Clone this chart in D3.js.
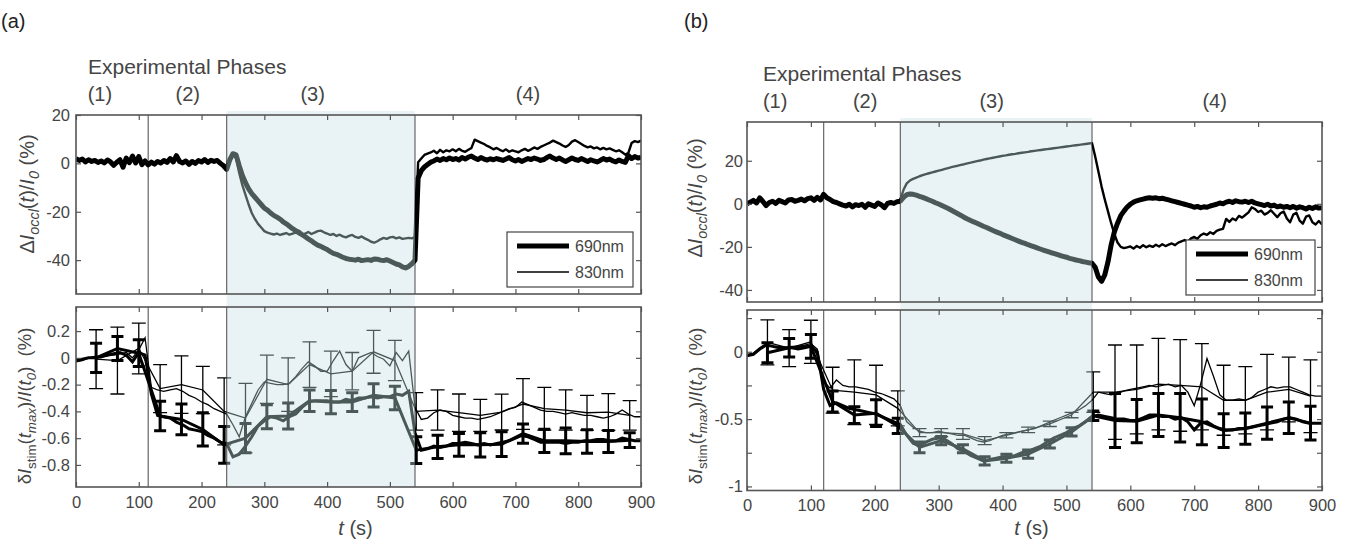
<!DOCTYPE html>
<html>
<head>
<meta charset="utf-8">
<script src="https://cdn.jsdelivr.net/npm/d3@7"></script>
<style>
body { margin: 0; background: #fff; }
text { font-family: "Liberation Sans", Arial, sans-serif; }
</style>
</head>
<body>
<svg id="chart" width="1355" height="547"></svg>
<script>
// sample grids (s)
var occTimes = d3.range(0, 901, 5)
var stimTimes = d3.range(0, 901, 10)
var barTimes = [32, 66, 100, 134, 168, 202, 236, 270, 304, 338, 372, 406, 440,
    474, 508, 542, 576, 610, 644, 678, 712, 746, 780, 814, 848, 882]
var xTicks = [0, 100, 200, 300, 400, 500, 600, 700, 800, 900]
var phaseNames = ["(1)", "(2)", "(3)", "(4)"]
var legendNames = ["690nm", "830nm"]

// (a) occlusion traces, dI/I0 in %
var occA690 = [
    2.0, 1.2, 1.8, 0.6, 1.5, 0.8, 1.2, 0.4, 1.0, 0.2, 1.4, 0.6,
    -0.8, 0.5, 1.5, -1.6, 2.2, 0.3, 3.0, 0.2, 2.8, -0.5, 1.0, -0.6,
    0.5, -0.3, 0.8, 0.2, 1.2, 0.4, 2.0, 0.6, 3.2, 0.8, 0.2, 1.0,
    -0.4, 0.8, 0.0, 1.2, 0.6, 1.6, 0.4, 1.3, 0.8, 1.2, 0.0, -1.0,
    -2.5, 1.5, 4.0, 3.5, -1.0, -5.0, -8.0, -10.5, -12.5, -14.0, -15.5, -17.0,
    -18.5, -19.3, -20.5, -21.5, -22.2, -23.0, -24.2, -25.0, -26.0, -27.0, -27.8, -28.5,
    -29.5, -30.3, -31.2, -32.0, -33.0, -33.8, -34.3, -35.0, -35.6, -36.5, -37.2, -37.6,
    -38.2, -38.8, -39.3, -39.6, -39.8, -40.0, -39.6, -40.2, -40.0, -39.8, -40.1, -39.5,
    -39.6, -40.0, -40.2, -39.8, -40.4, -41.0, -41.6, -42.0, -42.8, -43.2, -42.6, -41.5,
    -40.0, -6.0, -3.0, -1.5, -0.5, 0.5, 1.0, 1.8, 1.2, 2.0, 1.5, 2.2,
    1.6, 2.0, 1.4, 2.4, 1.8, 2.6, 3.0, 2.2, 1.6, 2.4, 1.8, 1.4,
    1.9, 1.5, 2.0, 1.6, 1.2, 1.8, 2.4, 1.5, 1.0, 1.6, 0.8, 1.4,
    2.0, 1.6, 2.2, 1.8, 1.2, 1.6, 2.4, 3.0, 2.2, 1.6, 2.2, 1.4,
    0.8, 1.5, 2.2, 1.6, 1.2, 2.0, 1.4, 0.8, 1.5, 1.0, 0.6, 1.2,
    2.0, 1.4, 1.8, 1.0, 0.6, 1.4, 0.8, 0.4, 3.2, 2.0, 2.8, 2.2,
    2.5]
var occA830 = [
    1.6, 1.0, 2.0, 0.8, 1.2, 1.0, 0.8, 0.6, 1.2, 0.0, 1.2, 0.8,
    -0.6, 0.7, 1.2, -1.2, 2.0, 0.5, 2.6, 0.4, 2.4, -0.2, 0.8, -0.4,
    0.3, -0.1, 0.6, 0.4, 1.0, 0.6, 1.8, 0.8, 2.8, 1.0, 0.4, 0.8,
    -0.2, 0.6, 0.2, 1.0, 0.8, 1.4, 0.6, 1.1, 1.0, 1.0, 0.2, -0.6,
    -2.0, 2.0, 4.0, 2.0, -4.0, -9.0, -13.0, -17.0, -20.5, -23.0, -25.0, -26.5,
    -28.0, -28.6, -29.0, -29.4, -29.0, -29.6, -29.2, -28.8, -29.5, -29.0, -28.6, -29.3,
    -29.6, -29.0, -28.4, -29.2, -28.6, -28.0, -27.8, -28.5, -29.0, -29.6, -29.2, -30.0,
    -29.5, -30.2, -30.6, -30.0, -29.6, -30.4, -30.8, -30.2, -31.0, -31.6, -32.4, -32.8,
    -32.2, -31.4, -30.8, -31.2, -30.6, -30.4, -31.0, -30.6, -31.2, -31.0, -30.8, -31.0,
    -30.5, 0.5, 2.0, 3.5, 4.0, 4.5, 5.2, 4.2, 5.6, 4.6, 5.4, 5.0,
    5.8, 5.0, 6.0, 5.2, 4.8, 5.6, 6.4, 9.8, 9.2, 8.6, 8.0, 7.2,
    6.6, 5.8, 6.4, 5.6, 5.0, 5.8, 4.8, 5.4, 5.0, 4.6, 5.4, 6.0,
    5.2, 5.8, 6.6, 6.0, 6.8, 7.4, 8.0, 8.6, 9.4, 8.8, 8.2, 7.4,
    6.8, 7.6, 9.0, 9.6, 8.8, 8.0, 7.2, 6.6, 7.0, 6.2, 6.6, 5.8,
    6.4, 5.8, 6.2, 5.6, 5.0, 5.4, 4.6, 3.6, 4.4, 8.4, 9.2, 8.8,
    9.4]

// (b) occlusion traces
var occB690 = [
    0.0, 0.8, 1.6, 0.4, 2.8, 1.0, -0.8, 0.6, 1.2, 0.2, 1.6, 1.0,
    0.4, 1.8, 2.0, 1.2, 1.6, 2.2, 1.4, 2.4, 2.8, 1.6, 3.0, 1.8,
    4.4, 2.8, 2.0, 1.0, 0.6, 0.0, -0.6, -1.0, -0.2, -1.4, -0.4, -0.8,
    -0.2, -1.6, 0.0, -0.6, -1.2, 0.4, -0.4, -1.8, 0.2, 0.6, 0.2, 1.0,
    1.2, 3.0, 4.2, 4.6, 4.4, 4.0, 3.5, 3.0, 2.4, 1.8, 1.2, 0.5,
    -0.1, -0.8, -1.5, -2.2, -3.0, -3.8, -4.6, -5.4, -6.3, -7.0, -7.7, -8.4,
    -9.0, -9.7, -10.4, -11.0, -11.7, -12.4, -13.0, -13.6, -14.3, -14.9, -15.5, -16.1,
    -16.7, -17.3, -17.9, -18.4, -19.0, -19.5, -20.0, -20.6, -21.1, -21.6, -22.1, -22.6,
    -23.0, -23.5, -24.0, -24.4, -24.8, -25.3, -25.7, -26.1, -26.4, -26.8, -27.1, -27.4,
    -27.6, -29.5, -34.0, -36.0, -33.0, -27.0, -19.0, -13.0, -9.0, -5.5, -3.4, -1.5,
    -0.2, 0.8, 1.4, 1.8, 2.2, 2.6, 2.8, 2.6, 2.8, 2.4, 2.6, 2.2,
    1.8, 1.4, 1.0, 0.6, 0.2, -0.2, -0.6, -1.0, -1.6, -1.2, -1.8, -1.4,
    -1.6, -1.0, -0.6, -0.2, 0.4, 0.0, 0.8, 1.2, 0.6, 1.4, 1.0, 0.8,
    1.2, 0.6, 1.2, 0.4, 0.0, -0.4, -0.8, -0.2, -1.0, -0.6, -1.4, -1.0,
    -1.6, -1.2, -1.8, -1.2, -2.0, -1.4, -1.8, -2.4, -1.6, -2.2, -1.4, -2.0,
    -1.8]
var occB830 = [
    0.2, 0.6, 1.4, 0.6, 2.4, 1.2, -0.4, 0.8, 1.0, 0.4, 1.4, 1.2,
    0.6, 1.6, 2.2, 1.0, 1.8, 2.0, 1.6, 2.2, 2.6, 1.8, 2.8, 2.0,
    4.0, 3.0, 1.8, 1.2, 0.4, 0.2, -0.4, -0.8, 0.0, -1.2, -0.2, -0.6,
    0.0, -1.4, 0.2, -0.4, -1.0, 0.2, -0.2, -1.4, 0.4, 0.8, 0.4, 1.2,
    2.0, 6.5, 9.5, 10.8, 11.6, 12.2, 12.8, 13.3, 13.8, 14.2, 14.6, 15.0,
    15.4, 15.8, 16.2, 16.6, 17.0, 17.4, 17.7, 18.1, 18.4, 18.8, 19.1, 19.5,
    19.8, 20.1, 20.5, 20.8, 21.1, 21.4, 21.7, 22.0, 22.3, 22.5, 22.8, 23.0,
    23.2, 23.5, 23.7, 23.9, 24.1, 24.4, 24.6, 24.8, 25.0, 25.2, 25.4, 25.6,
    25.8, 26.0, 26.2, 26.4, 26.6, 26.8, 27.0, 27.2, 27.4, 27.6, 27.8, 28.0,
    28.2, 22.0, 15.0, 8.0, 2.0, -3.5, -9.0, -14.0, -18.0, -20.0, -20.6, -20.2,
    -19.8, -20.8, -19.6, -20.4, -19.2, -20.2, -19.4, -20.0, -19.0, -19.8, -18.8, -19.6,
    -19.0, -18.4, -19.2, -18.0, -17.4, -16.8, -17.6, -16.0, -15.4, -16.2, -14.6, -13.8,
    -14.4, -13.2, -14.0, -12.6, -12.0, -11.6, -7.0, -8.4, -6.8, -7.6, -5.6, -6.4,
    -5.2, -4.0, -1.6, -2.4, -3.8, -3.2, -5.0, -4.2, -3.0, -4.6, -6.2, -4.4,
    -3.6, -6.8, -8.6, -5.0, -4.2, -7.8, -9.2, -6.0, -5.4, -8.6, -9.6, -8.0,
    -9.6]

// (a) stimulus response, 10 s grid
var stimA690 = [
    -0.02, -0.01, 0.00, 0.00, 0.01, 0.02, 0.03, 0.04, 0.02, -0.03,
    0.04, 0.02, -0.27, -0.43, -0.44, -0.45, -0.48, -0.50, -0.53, -0.54,
    -0.55, -0.58, -0.60, -0.63, -0.64, -0.74, -0.72, -0.66, -0.59, -0.51,
    -0.47, -0.44, -0.45, -0.47, -0.44, -0.42, -0.37, -0.33, -0.32, -0.32,
    -0.32, -0.33, -0.33, -0.31, -0.32, -0.30, -0.30, -0.29, -0.30, -0.29,
    -0.29, -0.27, -0.28, -0.25, -0.56, -0.69, -0.68, -0.66, -0.67, -0.66,
    -0.64, -0.64, -0.63, -0.64, -0.65, -0.64, -0.65, -0.64, -0.63, -0.62,
    -0.60, -0.58, -0.59, -0.61, -0.63, -0.63, -0.63, -0.63, -0.64, -0.63,
    -0.63, -0.62, -0.62, -0.61, -0.61, -0.62, -0.62, -0.60, -0.61, -0.62,
    -0.62]
var stimA830 = [
    -0.03, -0.02, 0.00, 0.01, 0.00, 0.02, 0.02, 0.03, 0.04, 0.00,
    0.06, 0.15, -0.22, -0.24, -0.25, -0.24, -0.23, -0.25, -0.28, -0.30,
    -0.33, -0.35, -0.38, -0.40, -0.42, -0.50, -0.59, -0.44, -0.34, -0.24,
    -0.18, -0.19, -0.20, -0.20, -0.19, -0.14, -0.08, -0.03, -0.06, -0.10,
    -0.10, -0.02, 0.05, -0.05, -0.10, 0.00, 0.02, 0.04, 0.01, -0.01,
    -0.06, 0.04, -0.02, 0.05, -0.37, -0.46, -0.45, -0.41, -0.39, -0.40,
    -0.43, -0.44, -0.45, -0.45, -0.46, -0.45, -0.44, -0.42, -0.40, -0.38,
    -0.37, -0.33, -0.35, -0.37, -0.39, -0.40, -0.40, -0.41, -0.42, -0.41,
    -0.42, -0.43, -0.43, -0.44, -0.45, -0.44, -0.42, -0.39, -0.42, -0.44,
    -0.44]
var barA690 = [0.0, 0.07, 0.035, -0.435, -0.46, -0.535, -0.65, -0.60, -0.44, -0.435, -0.32, -0.33, -0.33,
    -0.28, -0.30, -0.69, -0.665, -0.65, -0.65, -0.645, -0.567, -0.62, -0.62, -0.625, -0.625, -0.615]
var errA690 = [0.11, 0.09, 0.10, 0.11, 0.115, 0.124, 0.137, 0.11, 0.09, 0.097, 0.08, 0.087, 0.07,
    0.087, 0.087, 0.10, 0.087, 0.085, 0.09, 0.093, 0.072, 0.087, 0.096, 0.087, 0.082, 0.055]
var barA830 = [-0.01, -0.02, 0.07, -0.23, -0.20, -0.24, -0.40, -0.45, -0.16, -0.20, -0.05, -0.12, -0.10,
    0.045, -0.02, -0.40, -0.39, -0.41, -0.43, -0.405, -0.345, -0.38, -0.39, -0.41, -0.405, -0.43]
var errA830 = [0.22, 0.25, 0.19, 0.18, 0.215, 0.176, 0.25, 0.26, 0.18, 0.20, 0.17, 0.17, 0.14,
    0.16, 0.15, 0.14, 0.15, 0.14, 0.12, 0.134, 0.19, 0.16, 0.15, 0.13, 0.137, 0.11]

// (b) stimulus response
var stimB690 = [
    -0.03, -0.02, 0.02, 0.05, 0.04, 0.03, 0.03, 0.03, 0.02, 0.03,
    0.04, 0.00, -0.28, -0.40, -0.38, -0.40, -0.42, -0.43, -0.44, -0.45,
    -0.46, -0.48, -0.50, -0.52, -0.54, -0.62, -0.68, -0.70, -0.67, -0.65,
    -0.64, -0.65, -0.68, -0.72, -0.74, -0.77, -0.79, -0.81, -0.80, -0.79,
    -0.78, -0.78, -0.77, -0.75, -0.74, -0.72, -0.70, -0.67, -0.64, -0.62,
    -0.60, -0.57, -0.55, -0.52, -0.48, -0.47, -0.48, -0.49, -0.50, -0.50,
    -0.51, -0.51, -0.49, -0.47, -0.47, -0.48, -0.48, -0.50, -0.49, -0.52,
    -0.58, -0.53, -0.52, -0.55, -0.57, -0.58, -0.58, -0.57, -0.57, -0.56,
    -0.55, -0.54, -0.53, -0.52, -0.50, -0.49, -0.50, -0.52, -0.53, -0.53,
    -0.53]
var stimB830 = [
    -0.02, -0.01, 0.03, 0.06, 0.04, 0.04, 0.03, 0.04, 0.04, 0.05,
    0.06, 0.02, -0.22, -0.27, -0.21, -0.25, -0.26, -0.26, -0.27, -0.28,
    -0.30, -0.31, -0.33, -0.35, -0.40, -0.52, -0.56, -0.59, -0.60, -0.60,
    -0.59, -0.60, -0.61, -0.62, -0.62, -0.64, -0.66, -0.67, -0.66, -0.64,
    -0.62, -0.61, -0.60, -0.59, -0.58, -0.57, -0.55, -0.53, -0.51, -0.49,
    -0.47, -0.45, -0.43, -0.40, -0.36, -0.30, -0.31, -0.32, -0.31, -0.29,
    -0.28, -0.27, -0.26, -0.25, -0.26, -0.25, -0.24, -0.26, -0.25, -0.30,
    -0.40, -0.24, -0.05, -0.18, -0.32, -0.36, -0.36, -0.35, -0.36, -0.34,
    -0.30, -0.28, -0.26, -0.27, -0.26, -0.26, -0.28, -0.30, -0.32, -0.33,
    -0.33]
var barB690 = [-0.007, 0.03, 0.04, -0.37, -0.47, -0.456, -0.55, -0.71, -0.66, -0.72, -0.81, -0.79, -0.76,
    -0.685, -0.595, -0.475, -0.51, -0.515, -0.47, -0.49, -0.52, -0.585, -0.57, -0.53, -0.49, -0.53]
var errB690 = [0.074, 0.068, 0.089, 0.078, 0.062, 0.099, 0.056, 0.04, 0.03, 0.03, 0.03, 0.03, 0.03,
    0.03, 0.03, 0.035, 0.2, 0.16, 0.16, 0.18, 0.17, 0.125, 0.116, 0.12, 0.117, 0.126]
var barB830 = [0.07, 0.027, 0.074, -0.285, -0.30, -0.32, -0.42, -0.60, -0.60, -0.61, -0.66, -0.62, -0.58,
    -0.535, -0.47, -0.30, -0.30, -0.28, -0.24, -0.25, -0.26, -0.36, -0.36, -0.30, -0.28, -0.33]
var errB830 = [0.167, 0.138, 0.16, 0.17, 0.24, 0.22, 0.13, 0.03, 0.03, 0.04, 0.03, 0.02, 0.02,
    0.02, 0.02, 0.15, 0.35, 0.33, 0.34, 0.34, 0.32, 0.26, 0.25, 0.28, 0.24, 0.27]

var ink = "#000"
var phase3Ink = "#4b5a58"
var textColor = "#454545"
var frameColor = "#555"

var svg = d3.select("#chart")
svg.append("rect").attr("width", 1355).attr("height", 547).attr("fill", "#fff")

var panels = [
    {
        id: "a", label: "(a)", labelX: 1, left: 76, right: 641,
        occBox: [115, 294], stimBox: [307, 487],
        occDomain: [-54, 20], stimDomain: [-0.965, 0.38],
        occTicks: [20, 0, -20, -40], stimTicks: [0.2, 0, -0.2, -0.4, -0.6, -0.8],
        stimFormat: function (d) { return String(d) },
        phaseLines: [115, 240, 540], phaseLabelTimes: [38, 178, 377, 720],
        titleX: 88, titleY: 74, phaseY: 101, tickPad: 6,
        occLabelX: 34, occLabelY: 194, stimLabelX: 31, stimLabelY: 406,
        legend: [507, 232, 126, 55],
        occ690: occA690, occ830: occA830, stim690: stimA690, stim830: stimA830,
        bar690: barA690, err690: errA690, bar830: barA830, err830: errA830
    },
    {
        id: "b", label: "(b)", labelX: 684, left: 747, right: 1322,
        occBox: [122, 302], stimBox: [310, 490.5],
        occDomain: [-45.6, 38], stimDomain: [-1.03, 0.31],
        occTicks: [20, 0, -20, -40], stimTicks: [0.25, 0, -0.25, -0.5, -0.75, -1],
        stimFormat: function (d) { return (d * 2) % 1 === 0 ? String(d) : "" },
        phaseLines: [120, 240, 540], phaseLabelTimes: [44, 185, 383, 732],
        titleX: 763, titleY: 81, phaseY: 108, tickPad: 4,
        occLabelX: 702, occLabelY: 198, stimLabelX: 702, stimLabelY: 406,
        legend: [1186, 240, 129, 55],
        occ690: occB690, occ830: occB830, stim690: stimB690, stim830: stimB830,
        bar690: barB690, err690: errB690, bar830: barB830, err830: errB830
    }
]

var occLabelParts = [
    { s: "\u0394" }, { s: "I", i: 1 }, { s: "occl", i: 1, sub: 1 }, { s: "(" }, { s: "t", i: 1 },
    { s: ")/" }, { s: "I", i: 1 }, { s: "0", i: 1, sub: 1 }, { s: " (%)" }]
var stimLabelParts = [
    { s: "\u03b4" }, { s: "I", i: 1 }, { s: "stim", sub: 1 }, { s: "(" }, { s: "t", i: 1 },
    { s: "max", i: 1, sub: 1 }, { s: ")/" }, { s: "I", i: 1 }, { s: "(" }, { s: "t", i: 1 },
    { s: "0", i: 1, sub: 1 }, { s: ")\u00a0\u00a0(%)" }]

function richLabel(x, y, parts, size) {
    var t = svg.append("text")
        .attr("transform", "translate(" + x + "," + y + ") rotate(-90)")
        .attr("text-anchor", "middle")
        .attr("font-size", size)
        .attr("fill", textColor)
    var shift = 0
    parts.forEach(function (p) {
        var s = p.sub ? size * 0.25 : 0
        t.append("tspan")
            .attr("dy", s - shift)
            .attr("font-style", p.i ? "italic" : null)
            .attr("font-size", p.sub ? size * 0.72 : null)
            .text(p.s)
        shift = s
    })
}

function clipRects(id, rects) {
    var cp = svg.append("clipPath").attr("id", id)
    rects.forEach(function (r) {
        cp.append("rect").attr("x", r[0]).attr("y", r[1]).attr("width", r[2]).attr("height", r[3])
    })
}

function styleAxis(g, size) {
    g.select(".domain").remove()
    g.selectAll("line").attr("stroke", frameColor).attr("stroke-width", 1.2)
    g.selectAll("text").attr("fill", textColor)
    g.attr("font-size", size).attr("font-family", "Liberation Sans, Arial, sans-serif")
}

function drawOcc(g, p, x, y, color) {
    var line = d3.line().x(function (d, i) { return x(occTimes[i]) }).y(function (d) { return y(d) })
    g.append("path").datum(p.occ690).attr("d", line)
        .attr("fill", "none").attr("stroke", color).attr("stroke-width", 5).attr("stroke-linejoin", "round")
    g.append("path").datum(p.occ830).attr("d", line)
        .attr("fill", "none").attr("stroke", color).attr("stroke-width", 2.4).attr("stroke-linejoin", "round")
}

function drawStim(g, p, x, y, color) {
    var line = d3.line().x(function (d, i) { return x(stimTimes[i]) }).y(function (d) { return y(d) })
    var barLine = d3.line().x(function (d, i) { return x(barTimes[i]) }).y(function (d) { return y(d) })
    var series = [
        { vals: p.stim830, means: p.bar830, errs: p.err830, w: 1.3, cap: 7 },
        { vals: p.stim690, means: p.bar690, errs: p.err690, w: 3, cap: 6 }
    ]
    series.forEach(function (s) {
        g.append("path").datum(s.vals).attr("d", line)
            .attr("fill", "none").attr("stroke", color).attr("stroke-width", s.w)
        g.append("path").datum(s.means).attr("d", barLine)
            .attr("fill", "none").attr("stroke", color).attr("stroke-width", s.w)
        var bars = g.append("g").attr("stroke", color).attr("stroke-width", s.w)
        s.means.forEach(function (m, i) {
            var bx = x(barTimes[i])
            var y1 = y(m + s.errs[i]), y2 = y(m - s.errs[i])
            bars.append("line").attr("x1", bx).attr("x2", bx).attr("y1", y1).attr("y2", y2)
            bars.append("line").attr("x1", bx - s.cap).attr("x2", bx + s.cap).attr("y1", y1).attr("y2", y1)
            bars.append("line").attr("x1", bx - s.cap).attr("x2", bx + s.cap).attr("y1", y2).attr("y2", y2)
        })
    })
}

panels.forEach(function (p) {
    var x = d3.scaleLinear().domain([0, 900]).range([p.left, p.right])
    var yOcc = d3.scaleLinear().domain(p.occDomain).range([p.occBox[1], p.occBox[0]])
    var yStim = d3.scaleLinear().domain(p.stimDomain).range([p.stimBox[1], p.stimBox[0]])
    var x3a = x(240), x3b = x(540)

    // phase 3 shading across both plots
    svg.append("rect")
        .attr("x", x3a).attr("y", p.occBox[0] - 4)
        .attr("width", x3b - x3a).attr("height", p.stimBox[1] - p.occBox[0] + 4)
        .attr("fill", "#e9f3f6")

    svg.append("text").attr("x", p.labelX).attr("y", 28)
        .attr("font-size", 20).attr("fill", "#222").text(p.label)
    svg.append("text").attr("x", p.titleX).attr("y", p.titleY)
        .attr("font-size", 21).attr("fill", textColor).text("Experimental Phases")
    svg.append("g").selectAll("text")
        .data(phaseNames)
        .enter()
        .append("text")
        .attr("x", function (d, i) { return x(p.phaseLabelTimes[i]) })
        .attr("y", p.phaseY)
        .attr("text-anchor", "middle")
        .attr("font-size", 20)
        .attr("fill", textColor)
        .text(function (d) { return d })

    var plots = [
        { key: "occ", box: p.occBox, y: yOcc, draw: drawOcc, ticks: p.occTicks, fmt: function (d) { return String(d) } },
        { key: "stim", box: p.stimBox, y: yStim, draw: drawStim, ticks: p.stimTicks, fmt: p.stimFormat }
    ]

    plots.forEach(function (pl) {
        var top = pl.box[0], bot = pl.box[1], h = bot - top
        var cin = p.id + pl.key + "in", cout = p.id + pl.key + "out"
        clipRects(cin, [[x3a, top, x3b - x3a, h]])
        clipRects(cout, [[p.left, top, x3a - p.left, h], [x3b, top, p.right - x3b, h]])

        // phase boundaries
        svg.append("g").selectAll("line")
            .data(p.phaseLines)
            .enter()
            .append("line")
            .attr("x1", function (d) { return x(d) }).attr("x2", function (d) { return x(d) })
            .attr("y1", top).attr("y2", bot)
            .attr("stroke", "#666").attr("stroke-width", 1.2)

        pl.draw(svg.append("g").attr("clip-path", "url(#" + cout + ")"), p, x, pl.y, ink)
        pl.draw(svg.append("g").attr("clip-path", "url(#" + cin + ")"), p, x, pl.y, phase3Ink)

        svg.append("rect").attr("x", p.left).attr("y", top)
            .attr("width", p.right - p.left).attr("height", h)
            .attr("fill", "none").attr("stroke", frameColor).attr("stroke-width", 1.6)

        svg.append("g").attr("transform", "translate(" + p.left + ",0)")
            .call(d3.axisLeft(pl.y).tickValues(pl.ticks).tickSize(-5).tickPadding(p.tickPad).tickFormat(pl.fmt))
            .call(function (g) { styleAxis(g, 16.5) })
        svg.append("g").attr("transform", "translate(" + p.right + ",0)")
            .call(d3.axisRight(pl.y).tickValues(pl.ticks).tickSize(-5).tickFormat(""))
            .call(function (g) { styleAxis(g, 16.5) })
        svg.append("g").attr("transform", "translate(0," + top + ")")
            .call(d3.axisTop(x).tickValues(xTicks).tickSize(-5).tickFormat(""))
            .call(function (g) { styleAxis(g, 16.5) })
        var bottomAxis = d3.axisBottom(x).tickValues(xTicks).tickSize(-5).tickPadding(9)
        if (pl.key === "occ") bottomAxis.tickFormat("")
        svg.append("g").attr("transform", "translate(0," + bot + ")")
            .call(bottomAxis)
            .call(function (g) { styleAxis(g, 16.5) })
    })

    richLabel(p.occLabelX, p.occLabelY, occLabelParts, 20)
    richLabel(p.stimLabelX, p.stimLabelY, stimLabelParts, 18.5)

    var tl = svg.append("text").attr("x", (p.left + p.right) / 2 - 3).attr("y", 535)
        .attr("text-anchor", "middle").attr("font-size", 20).attr("fill", textColor)
    tl.append("tspan").attr("font-style", "italic").text("t")
    tl.append("tspan").text(" (s)")

    // legend
    var L = p.legend
    var lg = svg.append("g")
    lg.append("rect").attr("x", L[0]).attr("y", L[1]).attr("width", L[2]).attr("height", L[3])
        .attr("fill", "#fff").attr("stroke", "#444").attr("stroke-width", 1.2)
    lg.selectAll(".item")
        .data(legendNames)
        .enter()
        .append("line")
        .attr("x1", L[0] + 10).attr("x2", L[0] + 62)
        .attr("y1", function (d, i) { return L[1] + 14 + i * 26 })
        .attr("y2", function (d, i) { return L[1] + 14 + i * 26 })
        .attr("stroke", "#000")
        .attr("stroke-width", function (d, i) { return i === 0 ? 5 : 1.3 })
    lg.selectAll("text")
        .data(legendNames)
        .enter()
        .append("text")
        .attr("x", L[0] + 68)
        .attr("y", function (d, i) { return L[1] + 14 + i * 26 + 6 })
        .attr("font-size", 16)
        .attr("fill", textColor)
        .text(function (d) { return d })
})
</script>
</body>
</html>
